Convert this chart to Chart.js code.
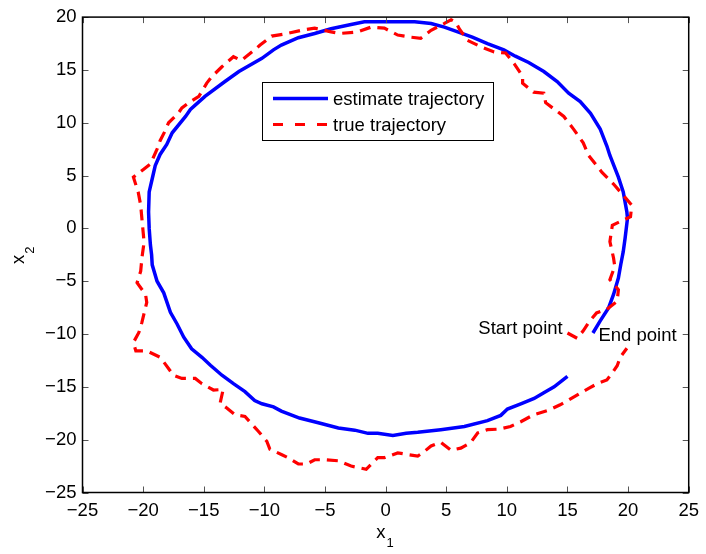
<!DOCTYPE html>
<html>
<head>
<meta charset="utf-8">
<script src="https://cdn.jsdelivr.net/npm/chart.js@4.4.1/dist/chart.umd.min.js"></script>
<style>
  html, body { margin: 0; padding: 0; background: #fff; }
  #wrap { width: 706px; height: 554px; }
</style>
</head>
<body>
<div id="wrap"><canvas id="trajChart" width="706" height="554"></canvas></div>
<script>
// Estimated vs true trajectory (x1, x2)

const estX = [17.1, 17.7, 18.4, 18.8, 19.2, 19.4, 19.6, 19.75, 19.95, 19.9, 19.6, 19.2, 18.5, 18.25, 17.7, 16.9,
  16.05, 15.1, 14.15, 13.05, 11.8, 10.7, 9.75, 8.4, 7.15, 5.95, 4.85, 3.75, 2.4, 1.0, -0.1, -1.75,
  -2.85, -4.5, -5.85, -7.2, -8.6, -9.25, -10.2, -12.1, -13.25, -14.9, -16.1, -16.5, -17.6, -18.05, -18.6, -19.0,
  -19.25, -19.5, -19.55, -19.5, -19.4, -19.3, -19.25, -18.85, -18.3, -17.75, -17.2, -16.65, -16.0, -15.15, -14.45, -13.5,
  -12.55, -11.6, -10.8, -10.2, -9.25, -8.6, -7.1, -5.55, -3.9, -2.55, -1.45, -0.65, 0.6, 1.7, 2.65, 4.55,
  6.5, 8.4, 9.5, 10.05, 11.15, 12.25, 13.05, 13.9, 15.0];
const estY = [-9.9, -8.75, -7.5, -6.25, -4.7, -3.4, -2.2, -0.95, 0.95, 1.55, 3.45, 4.85, 6.9, 7.8, 9.4, 10.9,
  12.0, 12.8, 13.9, 14.85, 15.7, 16.3, 16.9, 17.5, 18.1, 18.6, 19.05, 19.4, 19.55, 19.55, 19.55, 19.55,
  19.3, 18.9, 18.45, 18.05, 17.35, 16.9, 16.1, 14.85, 13.9, 12.5, 11.25, 10.6, 9.05, 7.95, 7.0, 5.95,
  4.7, 3.45, 1.55, 0, -1.55, -2.5, -3.45, -5.0, -6.1, -7.95, -9.05, -10.3, -11.4, -12.2, -12.95, -13.9,
  -14.7, -15.45, -16.3, -16.6, -16.9, -17.3, -17.95, -18.4, -18.9, -19.1, -19.4, -19.4, -19.6, -19.4, -19.3, -19.05,
  -18.75, -18.2, -17.7, -17.1, -16.6, -16.1, -15.55, -15.0, -14.0];

const trueX = [15.0, 15.8, 16.3, 16.75, 17.4, 18.25, 19.1, 19.2, 18.5, 18.9, 18.8, 18.5, 18.7, 20.2, 20.3, 18.8,
  17.85, 16.75, 16.3, 15.5, 14.7, 13.2, 13.05, 12.2, 11.3, 11.3, 10.6, 9.9, 8.95, 7.85, 6.75, 6.07,
  5.8, 5.4, 4.85, 3.75, 2.9, 2.1, 1.0, -0.1, -1.2, -2.3, -3.8, -4.5, -5.85, -6.95, -8.3, -9.4,
  -10.35, -10.8, -11.9, -12.55, -13.5, -14.3, -14.75, -15.4, -16.1, -16.8, -17.1, -17.9, -18.2, -18.6, -18.85, -19.4,
  -19.95, -20.8, -20.4, -20.2, -20.1, -19.95, -19.95, -20.1, -20.2, -20.5, -19.8, -19.7, -20.1, -20.35, -20.8, -20.6,
  -19.7, -18.6, -18.2, -17.5, -16.8, -15.7, -15.15, -14.2, -13.4, -13.65, -13.1, -12.4, -11.6, -10.5, -9.8, -9.55,
  -8.6, -8.05, -7.2, -6.5, -5.85, -5.0, -3.9, -2.85, -1.6, -0.65, -0.1, 1.0, 1.8, 2.65, 3.05, 3.75,
  4.55, 5.4, 6.2, 7.0, 7.6, 8.4, 9.35, 10.3, 11.15, 12.2, 13.45, 14.4, 15.1, 16.05, 16.75, 17.45,
  18.25, 18.65, 19.1, 19.35, 19.9];
const trueY = [-9.9, -10.4, -9.7, -8.9, -8.0, -7.65, -6.9, -5.8, -4.85, -3.6, -2.8, -1.25, 0.3, 1.1, 2.2, 4.2,
  5.3, 6.9, 8.1, 9.4, 10.6, 11.9, 12.8, 12.9, 13.75, 14.4, 15.6, 16.6, 16.7, 17.2, 17.8, 18.9,
  19.5, 19.75, 19.4, 18.75, 18.0, 18.1, 18.3, 18.95, 19.05, 18.6, 18.45, 18.6, 18.95, 18.75, 18.4, 18.2,
  17.35, 16.9, 15.9, 16.25, 15.3, 14.4, 13.75, 12.5, 12.0, 11.4, 10.9, 10.0, 9.2, 8.3, 7.5, 6.1,
  5.6, 4.85, 3.4, 2.2, 0.9, -0.95, -1.55, -2.8, -4.05, -5.15, -6.25, -7.0, -8.9, -9.85, -10.8, -11.6,
  -11.6, -12.2, -12.8, -13.9, -14.2, -14.2, -14.7, -15.3, -15.25, -16.55, -17.0, -17.65, -17.8, -19.2, -20.15, -20.9,
  -21.4, -21.7, -22.3, -22.3, -21.9, -21.9, -22.0, -22.5, -22.8, -21.7, -21.7, -21.25, -21.4, -21.55, -21.25, -20.6,
  -20.25, -21.0, -20.8, -20.3, -19.35, -19.05, -19.0, -18.75, -18.3, -17.65, -17.2, -16.7, -16.25, -15.6, -15.15, -14.7,
  -14.35, -13.75, -13.0, -12.2, -11.35];

const xTickValues = [-25, -20, -15, -10, -5, 0, 5, 10, 15, 20, 25];
const yTickValues = [-25, -20, -15, -10, -5, 0, 5, 10, 15, 20];

const seriesLabels = ['estimate trajectory', 'true trajectory'];

// text notes, placed in data units
const noteTexts = ['Start point', 'End point'];
const noteX = [7.65, 17.55];
const noteY = [-9.48, -10.18];

const FONT = '"Liberation Sans", Arial, Helvetica, sans-serif';
const FS = 18.5;
const BLUE = '#0000FF';
const RED = '#FF0000';

const toPoints = (xs, ys) => xs.map((v, i) => ({ x: v, y: ys[i] }));
const fmt = v => String(v).replace('-', '\u2212');

// MATLAB-like box, inward ticks, legend, notes and subscripted axis labels
const matlabFrame = {
    id: 'matlabFrame',
    afterDatasetsDraw(chart) {
        const { ctx, chartArea: a, scales: { x, y } } = chart;
        ctx.save();

        // tick marks on all four sides, pointing inward
        ctx.strokeStyle = '#555';
        ctx.lineWidth = 1;
        ctx.beginPath();
        x.ticks.forEach(t => {
            const px = Math.round(x.getPixelForValue(t.value)) + 0.5;
            ctx.moveTo(px, a.bottom); ctx.lineTo(px, a.bottom - 6);
            ctx.moveTo(px, a.top); ctx.lineTo(px, a.top + 6);
        });
        y.ticks.forEach(t => {
            const py = Math.round(y.getPixelForValue(t.value)) + 0.5;
            ctx.moveTo(a.left, py); ctx.lineTo(a.left + 6, py);
            ctx.moveTo(a.right, py); ctx.lineTo(a.right - 6, py);
        });
        ctx.stroke();

        ctx.strokeStyle = '#000';
        ctx.lineWidth = 1.5;
        ctx.strokeRect(a.left, a.top, a.right - a.left, a.bottom - a.top);

        // legend box
        const lx = 262, ly = 82, lw = 231, lh = 58;
        ctx.fillStyle = '#fff';
        ctx.fillRect(lx, ly, lw, lh);
        ctx.lineWidth = 1;
        ctx.strokeStyle = '#000';
        ctx.strokeRect(lx + 0.5, ly + 0.5, lw, lh);

        const ds = chart.data.datasets;
        const rows = [98.5, 124.5];
        ctx.font = FS + 'px ' + FONT;
        ctx.textBaseline = 'middle';
        ctx.textAlign = 'left';
        rows.forEach((ry, i) => {
            const d = ds[i];
            ctx.strokeStyle = d.borderColor;
            ctx.lineWidth = d.borderWidth;
            ctx.setLineDash(d.borderDash && d.borderDash.length ? [10, 12] : []);
            ctx.beginPath();
            ctx.moveTo(273, ry); ctx.lineTo(328, ry);
            ctx.stroke();
            ctx.setLineDash([]);
            ctx.fillStyle = '#000';
            ctx.fillText(d.label, 333, ry + 1);
        });

        // start / end notes
        noteTexts.forEach((txt, i) => {
            ctx.fillText(txt, x.getPixelForValue(noteX[i]), y.getPixelForValue(noteY[i]));
        });

        // axis labels with subscripts
        ctx.textBaseline = 'alphabetic';
        const cx = (a.left + a.right) / 2;
        ctx.font = FS + 'px ' + FONT;
        ctx.textAlign = 'right';
        ctx.fillText('x', cx, 538);
        ctx.font = '13px ' + FONT;
        ctx.textAlign = 'left';
        ctx.fillText('1', cx + 1, 547);

        ctx.translate(24, (a.top + a.bottom) / 2);
        ctx.rotate(-Math.PI / 2);
        ctx.font = FS + 'px ' + FONT;
        ctx.textAlign = 'right';
        ctx.fillText('x', 0, 0);
        ctx.font = '13px ' + FONT;
        ctx.textAlign = 'left';
        ctx.fillText('2', 1, 10);

        ctx.restore();
    }
};

new Chart(document.getElementById('trajChart'), {
    type: 'scatter',
    data: {
        datasets: [
            {
                label: seriesLabels[0],
                data: toPoints(estX, estY),
                showLine: true,
                borderColor: BLUE,
                backgroundColor: BLUE,
                borderWidth: 3.5,
                pointRadius: 0,
                tension: 0,
                order: 2
            },
            {
                label: seriesLabels[1],
                data: toPoints(trueX, trueY),
                showLine: true,
                borderColor: RED,
                backgroundColor: RED,
                borderWidth: 3.2,
                borderDash: [11, 7],
                pointRadius: 0,
                tension: 0,
                order: 1
            }
        ]
    },
    options: {
        responsive: false,
        animation: false,
        layout: { padding: { top: 14, right: 14.5, left: 0, bottom: 0 } },
        plugins: {
            legend: { display: false },
            tooltip: { enabled: false }
        },
        scales: {
            x: {
                type: 'linear',
                min: -25,
                max: 25,
                afterBuildTicks: s => { s.ticks = xTickValues.map(v => ({ value: v })); },
                afterFit: s => { s.height = 61.5; },
                grid: { display: false, drawTicks: false },
                border: { display: false },
                ticks: {
                    color: '#000',
                    padding: 7,
                    font: { family: FONT, size: FS },
                    callback: v => fmt(v)
                }
            },
            y: {
                type: 'linear',
                min: -25,
                max: 20,
                afterBuildTicks: s => { s.ticks = yTickValues.map(v => ({ value: v })); },
                afterFit: s => { s.width = 82.5; },
                grid: { display: false, drawTicks: false },
                border: { display: false },
                ticks: {
                    color: '#000',
                    padding: 6,
                    font: { family: FONT, size: FS },
                    callback: v => fmt(v)
                }
            }
        }
    },
    plugins: [matlabFrame]
});
</script>
</body>
</html>
